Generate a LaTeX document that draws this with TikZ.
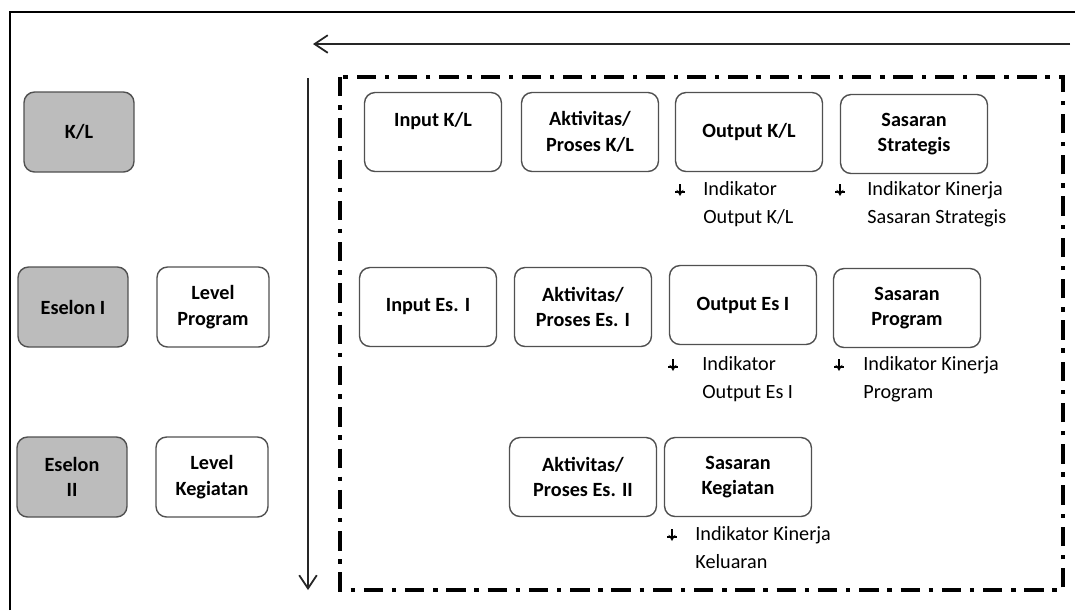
\documentclass[tikz,border=0pt]{standalone}
\usepackage{fontspec}
\setmainfont{Carlito}
\usetikzlibrary{arrows.meta}
\definecolor{levelgray}{RGB}{188,188,188}
\definecolor{edgegray}{RGB}{80,80,80}

\begin{document}
\begin{tikzpicture}[x=0.02cm,y=-0.02cm,
    box/.style={draw=edgegray,line width=0.8pt,rounded corners=6pt,align=center,
      minimum height=1.6cm,font=\fontsize{11.5}{14.5}\selectfont\bfseries},
    unit/.style={box,fill=levelgray,minimum width=2.2cm},
    lvl/.style={box,minimum width=2.24cm},
    step1/.style={box,minimum width=2.74cm,minimum height=1.58cm},
    step2/.style={box,minimum width=2.94cm,minimum height=1.58cm},
    ind/.style={align=left,anchor=north west,inner sep=0pt,font=\fontsize{11.5}{16}\selectfont},
    indmark/.pic={
      \draw[line width=0.9pt,-{Stealth[length=3.5pt,width=4pt]}] (0,-6) -- (0,6);
      \draw[line width=0.8pt] (-5,2) -- (5,2);},
    flow/.style={-{Straight Barb[length=7.5pt,width=10pt]},line width=1pt,draw=black!85},
    dashdot/.style={line width=2pt,dash pattern=on 11pt off 5pt on 2.5pt off 5pt}]
  \useasboundingbox (0,0) rectangle (1075,610);
  % frame
  \draw[line width=1.6pt] (10,610) -- (10,12) -- (1075,12);
  \coordinate (hstart) at (1070,44);
  \coordinate (hend) at (313,44);
  \coordinate (vstart) at (308,78);
  \coordinate (vend) at (308,590);
  \draw[flow] (hstart) -- (hend);
  \draw[flow] (vstart) -- (vend);
  \draw[dashdot] (340,77) rectangle (1063,590);

  % levels
  \node[unit] (kl) at (79,132) {K/L};
  \node[unit] (es1) at (73,307) {Eselon I};
  \node[unit] (es2) at (72,477) {Eselon\\II};
  \node[lvl] (prog) at (213,307) {Level\\Program};
  \node[lvl] (keg) at (212,477) {Level\\Kegiatan};

  % K/L
  \node[step1] (inKL) at (433,132) {Input K/L\\\mbox{}};
  \node[step1] (akKL) at (590,132) {Aktivitas/\\Proses K/L};
  \node[step2] (outKL) at (749,132) {Output K/L};
  \node[step2] (sasStr) at (914,134) {Sasaran\\Strategis};
  % Eselon I
  \node[step1] (inEs1) at (428,307) {Input Es. I};
  \node[step1] (akEs1) at (583,307) {Aktivitas/\\Proses Es. I};
  \node[step2] (outEs1) at (743,305) {Output Es I};
  \node[step2] (sasProg) at (907,308) {Sasaran\\Program};
  % Eselon II
  \node[step2] (akEs2) at (583,477) {Aktivitas/\\Proses Es. II};
  \node[step2] (sasKeg) at (738,477) {Sasaran\\Kegiatan};

  % indikator
  \pic (aOutKL) at (680,190) {indmark};
  \node[ind] (iOutKL) at (703,181) {Indikator\\Output K/L};
  \pic (aSasStr) at (840,190) {indmark};
  \node[ind] (iSasStr) at (867,181) {Indikator Kinerja\\Sasaran Strategis};
  \pic (aOutEs1) at (673,365) {indmark};
  \node[ind] (iOutEs1) at (702,356) {Indikator\\Output Es I};
  \pic (aSasProg) at (839,365) {indmark};
  \node[ind] (iSasProg) at (863,356) {Indikator Kinerja\\Program};
  \pic (aSasKeg) at (672,535) {indmark};
  \node[ind] (iSasKeg) at (695,526) {Indikator Kinerja\\Keluaran};
\end{tikzpicture}
\end{document}
